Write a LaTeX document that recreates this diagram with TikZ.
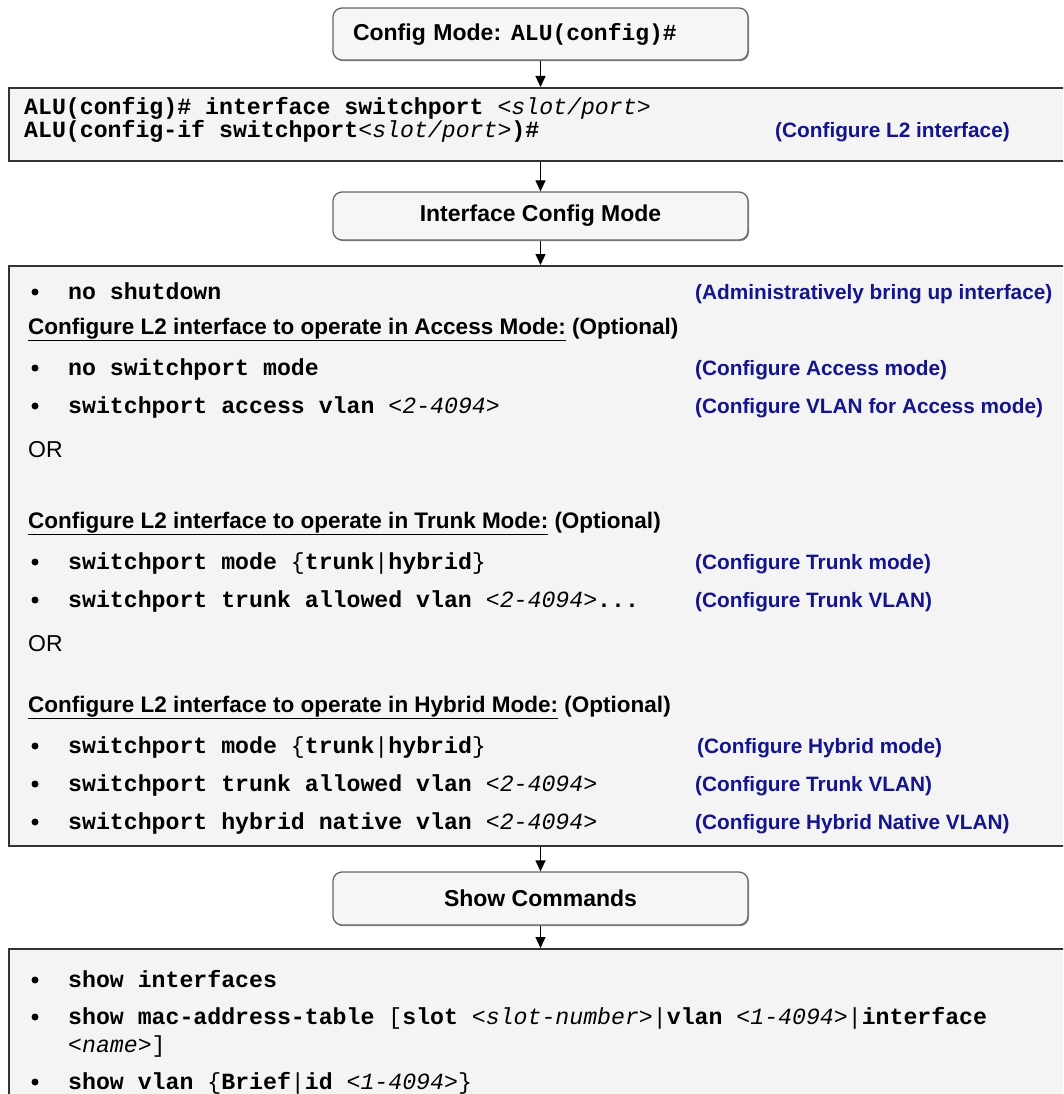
\documentclass[tikz,border=0pt]{standalone}
\usepackage{fontspec}
\setmainfont{Liberation Sans}
\newfontfamily\monofont{Liberation Mono}
\usetikzlibrary{arrows.meta,shadows}

\definecolor{noteblue}{HTML}{14148C}
\definecolor{boxfill}{HTML}{F4F4F4}
\definecolor{modefill}{HTML}{F6F6F6}

% command keywords (bold mono), parameters (italic mono), punctuation (plain mono)
\newcommand\kw[1]{{\monofont\bfseries #1}}
\newcommand\param[1]{{\monofont\mdseries\itshape #1}}
\newcommand\plain[1]{{\monofont\mdseries\upshape #1}}

\begin{document}
\begin{tikzpicture}[x=1pt,y=-1pt,
  modebox/.style={draw=black!60, line width=1.3pt, fill=modefill, rounded corners=9pt,
    minimum width=415pt, inner sep=0pt,
    drop shadow={shadow xshift=1pt, shadow yshift=-1.2pt, fill=black!45, opacity=1},
    font=\bfseries\fontsize{23}{24}\selectfont},
  bigbox/.style={draw=black!80, line width=1.6pt, fill=boxfill, inner sep=0pt},
  cmdtxt/.style={anchor=base west, inner sep=0pt, font=\monofont\bfseries\fontsize{23.2}{24}\selectfont},
  note/.style={anchor=base west, inner sep=0pt, text=noteblue, font=\bfseries\fontsize{20.8}{22}\selectfont},
  head/.style={anchor=base west, inner sep=0pt, font=\bfseries\fontsize{22.5}{24}\selectfont},
  ortxt/.style={anchor=base west, inner sep=0pt, font=\fontsize{23}{24}\selectfont},
  bul/.style={circle, fill=black, inner sep=0pt, minimum size=7pt},
  flow/.style={line width=1.3pt, draw=black, -{Triangle[width=10pt,length=11pt]}}
]
\clip (0,0) rectangle (1063,1094);
\fill[white] (0,0) rectangle (1063,1094);

% ---- global config mode
\node[modebox, minimum height=52pt, text width=375pt, inner xsep=20pt, align=left]
  (cfg) at (540.5,34) {Config Mode:\hspace{10pt}\kw{ALU(config)\#}};

% ---- entering the L2 interface
\node[bigbox, minimum width=1075pt, minimum height=73pt, anchor=north west] (l2) at (8,87) {};
\node[cmdtxt] (l2a) at (24,115) {ALU(config)\# interface switchport \param{<slot/port>}};
\node[cmdtxt] (l2b) at (24,138) {ALU(config-if switchport\param{<slot/port>})\#};
\node[note] (l2n) at (775,138) {(Configure L2 interface)};

% ---- interface config mode
\node[modebox, minimum height=48pt] (ifc) at (540.5,216) {Interface Config Mode};

% ---- interface options
\node[bigbox, minimum width=1075pt, minimum height=580pt, anchor=north west] (opts) at (8,265) {};

\node[bul] (b1) at (35,292) {};
\node[cmdtxt] (c1) at (68,299) {no shutdown};
\node[note] (n1) at (695,299) {(Administratively bring up interface)};

\node[head] (h1) at (28,334) {\underline{Configure L2 interface to operate in Access Mode:} (Optional)};
\node[bul] (b2) at (35,368) {};
\node[cmdtxt] (c2) at (68,375) {no switchport mode};
\node[note] (n2) at (695,375) {(Configure Access mode)};
\node[bul] (b3) at (35,406) {};
\node[cmdtxt] (c3) at (68,413) {switchport access vlan \param{<2-4094>}};
\node[note] (n3) at (695,413) {(Configure VLAN for Access mode)};

\node[ortxt] (or1) at (28,457) {OR};

\node[head] (h2) at (28,528) {\underline{Configure L2 interface to operate in Trunk Mode:} (Optional)};
\node[bul] (b4) at (35,562) {};
\node[cmdtxt] (c4) at (68,569) {switchport mode \plain{\{}trunk\plain{|}hybrid\plain{\}}};
\node[note] (n4) at (695,569) {(Configure Trunk mode)};
\node[bul] (b5) at (35,600) {};
\node[cmdtxt] (c5) at (68,607) {switchport trunk allowed vlan \param{<2-4094>}...};
\node[note] (n5) at (695,607) {(Configure Trunk VLAN)};

\node[ortxt] (or2) at (28,651) {OR};

\node[head] (h3) at (28,712) {\underline{Configure L2 interface to operate in Hybrid Mode:} (Optional)};
\node[bul] (b6) at (35,746) {};
\node[cmdtxt] (c6) at (68,753) {switchport mode \plain{\{}trunk\plain{|}hybrid\plain{\}}};
\node[note] (n6) at (697,753) {(Configure Hybrid mode)};
\node[bul] (b7) at (35,784) {};
\node[cmdtxt] (c7) at (68,791) {switchport trunk allowed vlan \param{<2-4094>}};
\node[note] (n7) at (695,791) {(Configure Trunk VLAN)};
\node[bul] (b8) at (35,822) {};
\node[cmdtxt] (c8) at (68,829) {switchport hybrid native vlan \param{<2-4094>}};
\node[note] (n8) at (695,829) {(Configure Hybrid Native VLAN)};

% ---- show commands
\node[modebox, minimum height=53pt] (shw) at (540.5,898.5) {Show Commands};

\node[bigbox, minimum width=1075pt, minimum height=160pt, anchor=north west] (list) at (8,948) {};
\node[bul] (s1b) at (35,980) {};
\node[cmdtxt] (s1) at (68,987) {show interfaces};
\node[bul] (s2b) at (35,1017) {};
\node[cmdtxt] (s2) at (68,1024) {show mac-address-table \plain{[}slot \param{<slot-number>}\plain{|}vlan \param{<1-4094>}\plain{|}interface};
\node[cmdtxt] (s2c) at (68,1052) {\param{<name>}\plain{]}};
\node[bul] (s3b) at (35,1082) {};
\node[cmdtxt] (s3) at (68,1089) {show vlan \plain{\{}Brief\plain{|}id \param{<1-4094>}\plain{\}}};

% ---- flow connectors
\draw[flow] (cfg.south) -- (cfg.south |- l2.north);
\draw[flow] (cfg.south |- l2.south) -- (ifc.north);
\draw[flow] (ifc.south) -- (ifc.south |- opts.north);
\draw[flow] (ifc.south |- opts.south) -- (shw.north);
\draw[flow] (shw.south) -- (shw.south |- list.north);
\end{tikzpicture}
\end{document}
